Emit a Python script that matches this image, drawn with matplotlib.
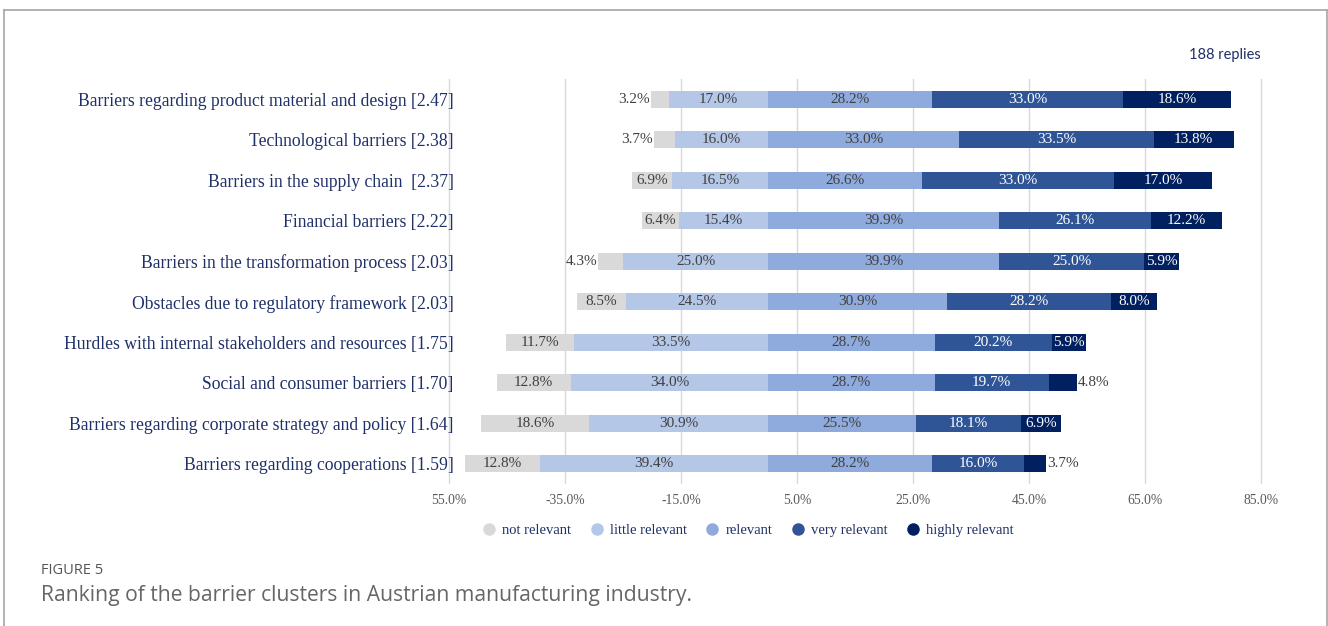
"""
Ranking of the barrier clusters - diverging stacked bars
"""

import matplotlib
matplotlib.use("Agg")
import matplotlib.pyplot as plt
from matplotlib.lines import Line2D

# categories (top to bottom)
barriere = [
    "Barriers regarding product material and design [2.47]",
    "Technological barriers [2.38]",
    "Barriers in the supply chain  [2.37]",
    "Financial barriers [2.22]",
    "Barriers in the transformation process [2.03]",
    "Obstacles due to regulatory framework [2.03]",
    "Hurdles with internal stakeholders and resources [1.75]",
    "Social and consumer barriers [1.70]",
    "Barriers regarding corporate strategy and policy [1.64]",
    "Barriers regarding cooperations [1.59]",
]

not_relevant = [3.2, 3.7, 6.9, 6.4, 4.3, 8.5, 11.7, 12.8, 18.6, 12.8]
little_relevant = [17.0, 16.0, 16.5, 15.4, 25.0, 24.5, 33.5, 34.0, 30.9, 39.4]
relevant = [28.2, 33.0, 26.6, 39.9, 39.9, 30.9, 28.7, 28.7, 25.5, 28.2]
very_relevant = [33.0, 33.5, 33.0, 26.1, 25.0, 28.2, 20.2, 19.7, 18.1, 16.0]
highly_relevant = [18.6, 13.8, 17.0, 12.2, 5.9, 8.0, 5.9, 4.8, 6.9, 3.7]

legenda = ["not relevant", "little relevant", "relevant", "very relevant", "highly relevant"]
colori = ["#d9d9d9", "#b4c7e7", "#8faadc", "#2f5597", "#002060"]
testo_barre = ["#404040", "#404040", "#404040", "white", "white"]

tick_x = [-55, -35, -15, 5, 25, 45, 65, 85]
tick_lab = ["55.0%", "-35.0%", "-15.0%", "5.0%", "25.0%", "45.0%", "65.0%", "85.0%"]

NAVY = "#1f3068"
SERIF = "Liberation Serif"

fig = plt.figure(figsize=(13.28, 6.26), dpi=100)
ax = fig.add_axes([0.3294, 0.2268, 0.6333, 0.647])

y = list(range(len(barriere)))
h = 0.42

# a sinistra: not relevant + little relevant, a destra il resto
left_nr = [-(a + b) for a, b in zip(not_relevant, little_relevant)]
left_lr = [-b for b in little_relevant]
left_r = [0] * len(barriere)
left_vr = list(relevant)
left_hr = [a + b for a, b in zip(relevant, very_relevant)]
segmenti = [
    (not_relevant, left_nr),
    (little_relevant, left_lr),
    (relevant, left_r),
    (very_relevant, left_vr),
    (highly_relevant, left_hr),
]

for k, (valori, lefts) in enumerate(segmenti):
    ax.barh(y, valori, left=lefts, height=h, color=colori[k], zorder=3, label=legenda[k])
    for i, (v, l) in enumerate(zip(valori, lefts)):
        txt = f"{v:.1f}%"
        if v < 5 and k == 0:
            ax.text(l - 0.2, i, txt, ha="right", va="center", fontsize=11,
                    family=SERIF, color="#404040", zorder=4)
        elif v < 5 and k == 4:
            ax.text(l + v + 0.2, i, txt, ha="left", va="center", fontsize=11,
                    family=SERIF, color="#404040", zorder=4)
        else:
            ax.text(l + v / 2, i, txt, ha="center", va="center", fontsize=11,
                    family=SERIF, color=testo_barre[k], zorder=4)

ax.set_xlim(-57, 88)
ax.set_ylim(9.5, -0.5)

ax.set_xticks(tick_x)
ax.set_xticklabels(tick_lab, family=SERIF, fontsize=9.8, color="#595959")
ax.set_yticks(y)
ax.set_yticklabels(barriere, family=SERIF, fontsize=12.7, color=NAVY)
ax.tick_params(axis="y", length=0, pad=-11.5)
ax.tick_params(axis="x", length=0, pad=7)

ax.grid(axis="x", color="#d9d9d9", linewidth=1, zorder=0)
ax.set_axisbelow(True)
for s in ax.spines.values():
    s.set_visible(False)

# legenda con marcatori circolari
maniglie = [Line2D([], [], marker="o", linestyle="none", markersize=8,
                   markerfacecolor=c, markeredgecolor=c) for c in colori]
leg = fig.legend(maniglie, legenda, loc="center", bbox_to_anchor=(0.563, 0.153),
                 ncol=5, frameon=False, handlelength=1.0, handletextpad=0.4,
                 columnspacing=1.25, prop={"family": SERIF, "size": 10.5})
for t in leg.get_texts():
    t.set_color(NAVY)

fig.text(1261 / 1328, 1 - 55 / 626, "188 replies", ha="right", va="center",
         fontsize=10.5, family="Lato", color=NAVY)

fig.text(41 / 1328, 1 - 571 / 626, "FIGURE 5", ha="left", va="center",
         fontsize=10.5, family="Open Sans", color="#555555")
fig.text(41 / 1328, 1 - 595 / 626,
         "Ranking of the barrier clusters in Austrian manufacturing industry.",
         ha="left", va="center", fontsize=15.2, family="Open Sans", color="#666666")

# cornice della figura (sinistra, sopra, destra)
cornice = "#a6a6a6"
fig.add_artist(Line2D([4 / 1328, 4 / 1328], [0, 1 - 10 / 626], color=cornice, linewidth=1.2))
fig.add_artist(Line2D([4 / 1328, 1327 / 1328], [1 - 10 / 626, 1 - 10 / 626], color=cornice, linewidth=1.2))
fig.add_artist(Line2D([1327 / 1328, 1327 / 1328], [0, 1 - 10 / 626], color=cornice, linewidth=1.2))

fig.savefig("out.png", dpi=100)
